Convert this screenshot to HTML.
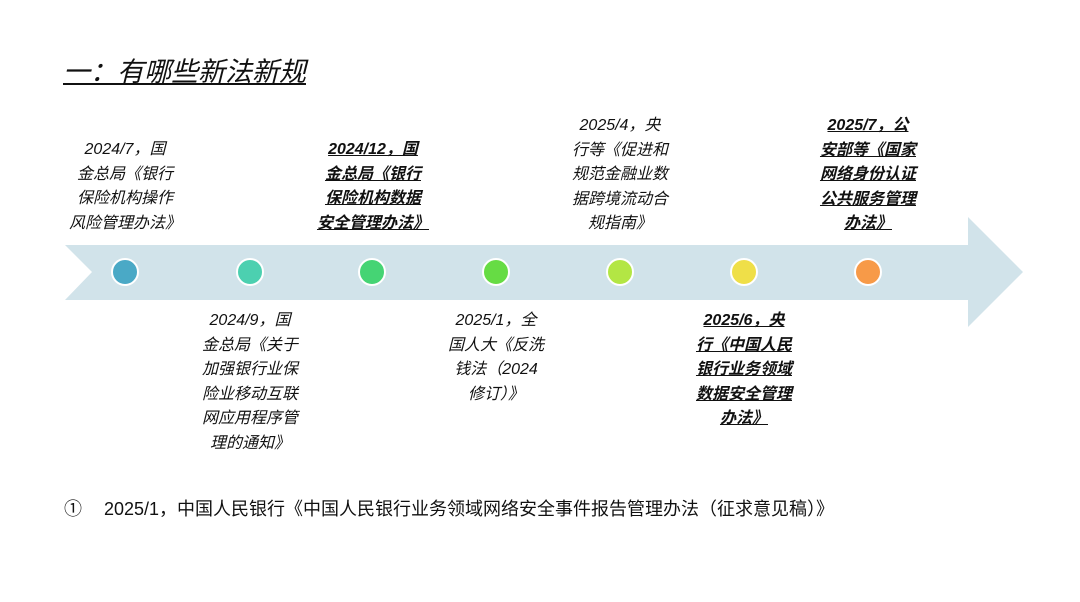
<!DOCTYPE html>
<html><head><meta charset="utf-8"><style>
html,body{margin:0;padding:0;width:1080px;height:602px;background:#fff;overflow:hidden}
body{position:relative;font-family:"Liberation Sans","Noto Sans CJK SC",sans-serif;color:#111}
.t{position:absolute;width:140px;text-align:center;font-size:16px;line-height:24.6px;font-style:italic;white-space:nowrap}
.b{font-weight:bold}
.b span{text-decoration:underline}
.c{position:absolute;width:24px;height:24px;border-radius:50%;border:2px solid #fff;top:258px}
</style></head><body>
<div style="position:absolute;left:63px;top:54px;font-size:27px;font-style:italic;text-decoration:underline;line-height:36px">一：有哪些新法新规</div>
<svg style="position:absolute;left:0;top:0" width="1080" height="602">
<polygon points="65,245 968,245 968,217 1023,272 968,327 968,300 65,300 92,272" fill="#d1e3ea"/>
</svg>
<div class="c" style="left:111px;background:#4aa9c6"></div>
<div class="c" style="left:236px;background:#4cd0b0"></div>
<div class="c" style="left:358px;background:#45d474"></div>
<div class="c" style="left:482px;background:#66dc44"></div>
<div class="c" style="left:606px;background:#b3e644"></div>
<div class="c" style="left:730px;background:#efdf48"></div>
<div class="c" style="left:854px;background:#f79a48"></div>

<div class="t" style="left:55px;top:138px">2024/7，国<br>金总局《银行<br>保险机构操作<br>风险管理办法》</div>
<div class="t b" style="left:303px;top:138px"><span>2024/12，国</span><br><span>金总局《银行</span><br><span>保险机构数据</span><br><span>安全管理办法》</span></div>
<div class="t" style="left:550px;top:114px">2025/4，央<br>行等《促进和<br>规范金融业数<br>据跨境流动合<br>规指南》</div>
<div class="t b" style="left:798px;top:114px"><span>2025/7，公</span><br><span>安部等《国家</span><br><span>网络身份认证</span><br><span>公共服务管理</span><br><span>办法》</span></div>

<div class="t" style="left:180px;top:309px">2024/9，国<br>金总局《关于<br>加强银行业保<br>险业移动互联<br>网应用程序管<br>理的通知》</div>
<div class="t" style="left:426px;top:309px">2025/1，全<br>国人大《反洗<br>钱法（2024<br>修订）》</div>
<div class="t b" style="left:674px;top:309px"><span>2025/6，央</span><br><span>行《中国人民</span><br><span>银行业务领域</span><br><span>数据安全管理</span><br><span>办法》</span></div>

<div style="position:absolute;left:64px;top:497px;font-size:18px;line-height:24px;white-space:nowrap">①<span style="display:inline-block;width:22px"></span>2025/1，中国人民银行《中国人民银行业务领域网络安全事件报告管理办法（征求意见稿）》</div>
</body></html>
